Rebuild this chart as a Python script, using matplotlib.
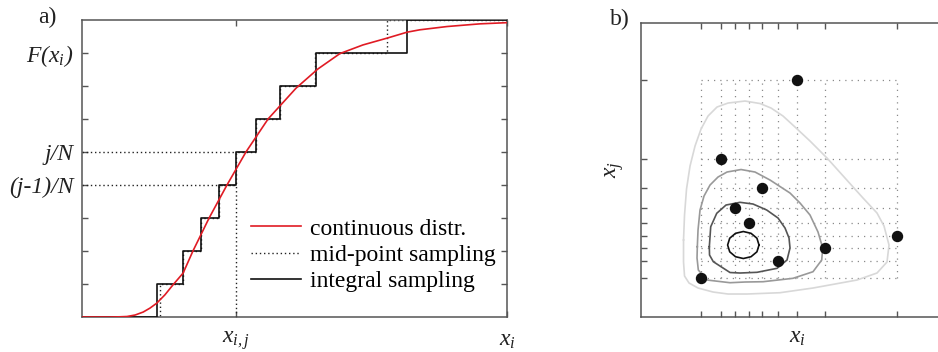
import matplotlib
matplotlib.use("Agg")
import matplotlib.pyplot as plt

plt.rcParams['font.family'] = ['Liberation Serif', 'DejaVu Serif']
plt.rcParams['mathtext.fontset'] = 'custom'
plt.rcParams['mathtext.it'] = 'Liberation Serif:italic'
plt.rcParams['mathtext.rm'] = 'Liberation Serif:italic'

# ---- panel a) data ----
N = 9
# continuous CDF (x in 0..100, F in 0..1)
cdf_x = [0, 6.6, 8.9, 10.6, 12.5, 14.4, 16.0, 17.6, 19.5, 21.4, 23.8, 26.1,
         29.9, 34.1, 38.6, 43.8, 50.4, 55.5, 60.7, 66.1, 71.8, 76.5, 79.5,
         85.9, 93.6, 100]
cdf_y = [0, 0, 0.0007, 0.0017, 0.0067, 0.0167, 0.03, 0.0467, 0.0744, 0.108,
         0.148, 0.222, 0.333, 0.444, 0.556, 0.667, 0.771, 0.835, 0.887,
         0.916, 0.939, 0.959, 0.967, 0.978, 0.987, 0.991]
integral_x = [17.6, 23.7, 28.1, 32.2, 36.2, 41.0, 46.7, 55.1, 76.4]
midpoint_x = [18.4, 23.7, 28.1, 32.2, 36.2, 41.0, 46.7, 54.8, 71.7]
j_index = 5
xtick_labels = ['$x_{i,j}$', '$x_i$']

# ---- panel b) data ----
sample_x = [156, 80, 121.3, 94, 108, 255.7, 184.3, 137.3, 59.7]
sample_y = [237, 157.7, 128.7, 109.3, 93.7, 81.3, 68.7, 56, 38.7]

contour_light_x = [42.5, 43.5, 45.5, 49, 54, 60, 67, 76, 87, 104, 119, 130,
                   142, 154, 169, 186, 204, 222, 236, 243, 248, 246, 236, 216,
                   172, 139, 106, 87, 72, 57, 48, 43.5, 42.5]
contour_light_y = [77, 102, 128, 151, 171, 188, 201, 210, 214, 216, 213.5, 209,
                   201, 190, 176, 159, 139, 119, 104, 91, 72, 55, 44, 37, 29,
                   24.3, 23, 23, 25, 29, 34, 41, 55]
contour_mid_x = [56.3, 57, 59, 63, 69, 77, 86, 100, 114, 129, 149, 159, 169,
                 177, 181.7, 180.7, 172, 152, 122, 104, 89, 66, 57.3, 56]
contour_mid_y = [70.3, 87, 107, 121, 132, 140, 145, 147.5, 145, 137, 124, 114,
                 102, 85, 69, 57, 45.3, 38.7, 35.3, 35, 34.3, 37, 47, 59]
contour_dark_x = [68.3, 69.7, 75.7, 85, 99, 112, 125.7, 137, 144, 148, 149,
                  146, 136, 116, 99, 89, 72.3, 68.5]
contour_dark_y = [70.3, 90.3, 103.7, 112, 114.7, 113, 107, 99, 89, 79, 69, 57,
                  48.7, 44.7, 44, 44.5, 55.3, 62]
contour_core_x = [118, 115.9, 110, 102.3, 94.5, 88.7, 86.6, 88.7, 94.5, 102.3,
                  110, 115.9]
contour_core_y = [72, 78.8, 83.7, 85.5, 83.7, 78.8, 72, 65.2, 60.3, 58.5,
                  60.3, 65.2]

SPINE = '#555555'
TXT = '#222222'
DOT = (0, (1, 2))


def style_box(ax):
    for s in ax.spines.values():
        s.set_color(SPINE)
        s.set_linewidth(1.1)
    ax.tick_params(direction='in', top=True, right=True, length=4,
                   width=1.0, color=SPINE, labelcolor=TXT, labelsize=17, pad=6)


fig = plt.figure(figsize=(9.38, 3.52), dpi=100)

# ---------------- a) ----------------
ax = fig.add_axes([0.0874, 0.0994, 0.4531, 0.8438])
levels = [k / N for k in range(N + 1)] + [1.0]

ax.step([0] + midpoint_x + [100], levels, where='post', color='#222222',
        lw=1.0, ls=DOT, zorder=2, label='mid-point sampling')
ax.step([0] + integral_x + [100], levels, where='post', color='#111111',
        lw=1.2, zorder=3, label='integral sampling')
ax.plot(cdf_x, cdf_y, color='#e01b24', lw=1.2, zorder=4,
        label='continuous distr.')

xij = integral_x[j_index - 1]
ax.plot([0, xij], [j_index / N] * 2, color='#222222', lw=1.0, ls=DOT, zorder=2)
ax.plot([0, xij], [(j_index - 1) / N] * 2, color='#222222', lw=1.0, ls=DOT,
        zorder=2)
ax.plot([xij, xij], [0, (j_index - 1) / N], color='#222222', lw=1.0, ls=DOT,
        zorder=2)

ax.set_xlim(0, 100)
ax.set_ylim(0, 1)
ax.set_xticks([xij, 100])
ax.set_xticklabels(xtick_labels)
yt = [k / N for k in range(1, N)]
ax.set_yticks(yt)
ylabels = [''] * len(yt)
ylabels[N - 2] = 'F($x_i$)'
ylabels[j_index - 1] = 'j/N'
ylabels[j_index - 2] = '(j-1)/N'
ax.set_yticklabels(ylabels, fontstyle='italic')
style_box(ax)
ax.tick_params(axis='x', pad=9)

h, l = ax.get_legend_handles_labels()
order = [2, 0, 1]
ax.legend([h[i] for i in order], [l[i] for i in order], loc='upper left',
          bbox_to_anchor=(0.398, 0.333), frameon=False, fontsize=17,
          borderpad=0, borderaxespad=0, handlelength=2.1, handletextpad=0.4,
          labelspacing=0.2)

fig.text(0.050, 0.950, 'a)', fontsize=17, color=TXT, ha='center', va='center')

# ---------------- b) ----------------
bx = fig.add_axes([0.6834, 0.0994, 0.3326, 0.836])
gx = sorted(sample_x)
gy = sorted(sample_y)
bx.vlines(gx, gy[0], gy[-1], colors='#8a8a8a', lw=0.9, linestyles=(0, (1, 4)),
          zorder=1)
bx.hlines(gy, gx[0], gx[-1], colors='#8a8a8a', lw=0.9, linestyles=(0, (1, 4)),
          zorder=1)

for cx, cy, col in [(contour_light_x, contour_light_y, '#d8d8d8'),
                    (contour_mid_x, contour_mid_y, '#999999'),
                    (contour_dark_x, contour_dark_y, '#555555'),
                    (contour_core_x, contour_core_y, '#111111')]:
    bx.plot(cx + cx[:1], cy + cy[:1], color=col, lw=1.2, zorder=2)

bx.plot(sample_x, sample_y, 'o', color='#111111', ms=7.2, zorder=3)

bx.set_xlim(0, 312)
bx.set_ylim(0, 294.3)
bx.set_xticks(gx)
bx.set_yticks(gy)
bx.set_xticklabels([])
bx.set_yticklabels([])
style_box(bx)
bx.set_xlabel('$x_i$', fontsize=17, color=TXT, labelpad=1)
bx.set_ylabel('$x_j$', fontsize=17, color=TXT, labelpad=5)

fig.text(0.661, 0.945, 'b)', fontsize=17, color=TXT, ha='center', va='center')

fig.savefig('out.png', dpi=100)
